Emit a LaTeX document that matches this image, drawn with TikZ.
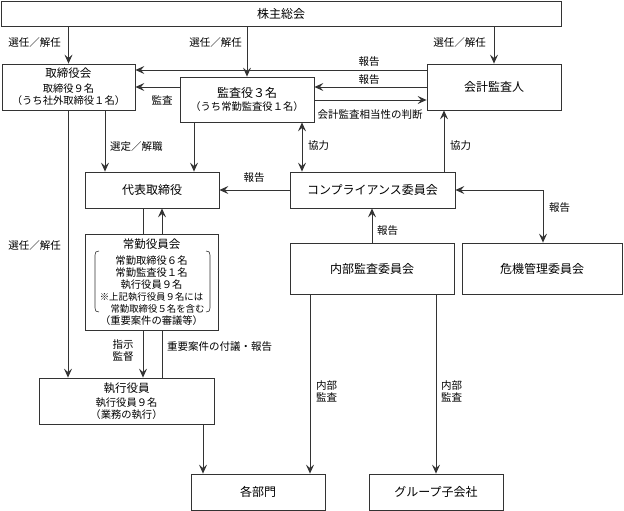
\documentclass[tikz,border=0pt]{standalone}
\usepackage{fontspec}
\setmainfont{Noto Sans CJK JP}
\usetikzlibrary{arrows.meta}
\begin{document}
\begin{tikzpicture}[x=1pt,y=-1pt,
  box/.style={draw=black!80, line width=0.8pt, inner sep=0pt, align=center, font=\fontsize{12}{14}\selectfont},
  mbox/.style={box, font=\fontsize{10.3}{12}\selectfont},
  conn/.style={draw=black!80, line width=0.8pt},
  arr/.style={conn, -{Stealth[length=9pt,width=8pt,inset=3.5pt]}},
  darr/.style={conn, {Stealth[length=9pt,width=8pt,inset=3.5pt]}-{Stealth[length=9pt,width=8pt,inset=3.5pt]}},
  lbl/.style={font=\fontsize{10.5}{12}\selectfont, inner sep=0pt, align=center},
  brk/.style={draw=black!80, line width=0.6pt}
]
\useasboundingbox (0,0) rectangle (624,511);

% boxes
\node[box, minimum width=560pt, minimum height=25pt] (sh) at (281,13.5) {株主総会};
\node[mbox, minimum width=133pt, minimum height=46pt] (tb) at (68.5,87)
  {{\fontsize{11.5}{12}\selectfont 取締役会}\\[3pt]取締役９名\\（うち社外取締役１名）};
\node[mbox, minimum width=134pt, minimum height=45pt] (ka) at (247,99.5)
  {{\fontsize{12}{12}\selectfont 監査役３名}\\[1pt]（うち常勤監査役１名）};
\node[box, minimum width=134pt, minimum height=46pt] (kk) at (494,87) {会計監査人};
\node[box, minimum width=134pt, minimum height=36pt] (dh) at (152,190) {代表取締役};
\node[box, minimum width=165pt, minimum height=36pt] (cp) at (372.5,190) {コンプライアンス委員会};
\node[mbox, minimum width=133pt, minimum height=96pt] (jy) at (151.5,282)
  {{\fontsize{11.5}{12}\selectfont 常勤役員会}\\[4pt]常勤取締役６名\\常勤監査役１名\\執行役員９名\\
   {\fontsize{9.4}{12}\selectfont ※上記執行役員９名には}\\
   {\fontsize{9.4}{12}\selectfont\hspace*{12pt}常勤取締役５名を含む}\\（重要案件の審議等）};
\node[box, minimum width=164pt, minimum height=51pt] (nb) at (372,268.5) {内部監査委員会};
\node[box, minimum width=160pt, minimum height=51pt] (km) at (542,268.5) {危機管理委員会};
\node[mbox, minimum width=175pt, minimum height=46pt] (sy) at (126.5,401)
  {{\fontsize{11.5}{12}\selectfont 執行役員}\\[2pt]執行役員９名\\（業務の執行）};
\node[box, minimum width=134pt, minimum height=36pt] (kb) at (258,492) {各部門};
\node[box, minimum width=134pt, minimum height=36pt] (gk) at (436,492) {グループ子会社};

% brackets inside 常勤役員会
\draw[brk] (99,251) .. controls (96,251) and (95,252) .. (95,255) -- (95,308) .. controls (95,311) and (96,312) .. (99,312);
\draw[brk] (206,251) .. controls (209,251) and (210,252) .. (210,255) -- (210,308) .. controls (210,311) and (209,312) .. (206,312);

% connectors
\draw[arr] (sh.south -| tb.north) -- (tb.north);
\draw[arr] (sh.south -| ka.north) -- (ka.north);
\draw[arr] (sh.south -| kk.north) -- (kk.north);
\draw[arr] (kk.west |- 0,70) -- (tb.east |- 0,70);
\draw[arr] (kk.west |- 0,87) -- (ka.east |- 0,87);
\draw[arr] (ka.west |- 0,87) -- (tb.east |- 0,87);
\draw[arr] (ka.east |- 0,100) -- (kk.west |- 0,100);
\draw[arr] (tb.south -| 105,0) -- (dh.north -| 105,0);
\draw[arr] (ka.south -| 194,0) -- (dh.north -| 194,0);
\draw[darr] (ka.south -| 302,0) -- (cp.north -| 302,0);
\draw[arr] (cp.north -| 444,0) -- (kk.south -| 444,0);
\draw[arr] (cp.west) -- (dh.east);
\draw[darr] (cp.east) -| (km.north -| 543,0);
\draw[arr] (nb.north -| 372,0) -- (cp.south -| 372,0);
\draw[conn] (dh.south -| 143,0) -- (jy.north -| 143,0);
\draw[arr] (jy.north -| 162,0) -- (dh.south -| 162,0);
\draw[arr] (jy.south -| 143,0) -- (sy.north -| 143,0);
\draw[conn] (sy.north -| 162,0) -- (jy.south -| 162,0);
\draw[arr] (tb.south -| 68,0) -- (sy.north -| 68,0);
\draw[arr] (sy.south -| 203,0) -- (kb.north -| 203,0);
\draw[arr] (nb.south -| 310,0) -- (kb.north -| 310,0);
\draw[arr] (nb.south -| 436,0) -- (gk.north);

% labels
\node[lbl, anchor=east] (l1) at (61,43) {選任／解任};
\node[lbl, anchor=east] (l2) at (242,43) {選任／解任};
\node[lbl, anchor=east] (l3) at (486,43) {選任／解任};
\node[lbl] (l4) at (369,62) {報告};
\node[lbl] (l5) at (369,80) {報告};
\node[lbl] (l6) at (162,100) {監査};
\node[lbl] (l7) at (370,115) {会計監査相当性の判断};
\node[lbl, anchor=west] (l8) at (110,147) {選定／解職};
\node[lbl, anchor=west] (l9) at (308,146) {協力};
\node[lbl, anchor=west] (l10) at (450,146) {協力};
\node[lbl] (l11) at (254,178) {報告};
\node[lbl, anchor=west] (l12) at (549,208) {報告};
\node[lbl, anchor=west] (l13) at (377,231) {報告};
\node[lbl, anchor=east] (l14) at (61,246) {選任／解任};
\node[lbl] (l15) at (123,351) {指示\\監督};
\node[lbl, anchor=west] (l16) at (167,347) {重要案件の付議・報告};
\node[lbl, anchor=west] (l17) at (316,391) {内部\\監査};
\node[lbl, anchor=west] (l18) at (441,391) {内部\\監査};
\end{tikzpicture}
\end{document}
